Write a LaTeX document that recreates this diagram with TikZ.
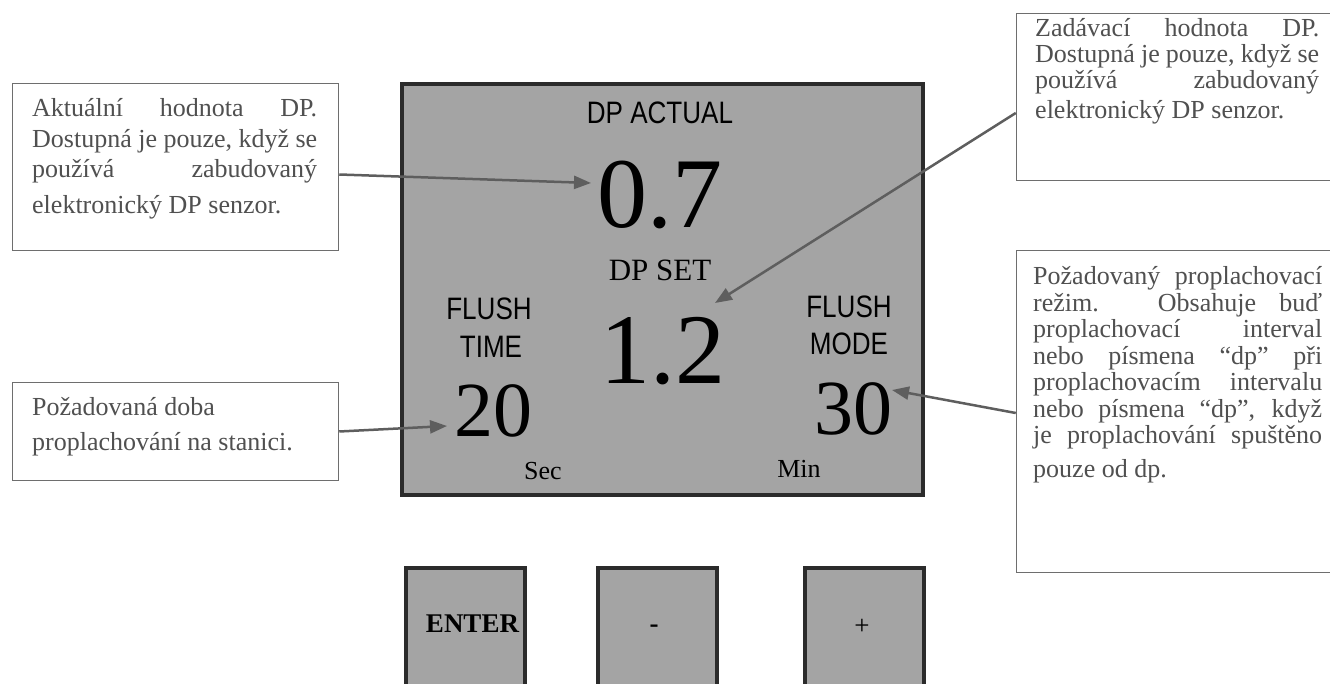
\documentclass[tikz,border=0pt]{standalone}
\usepackage{fontspec}
\setmainfont{Liberation Serif}
\newfontfamily\narrowsans[FakeStretch=0.84]{Liberation Sans}
\usetikzlibrary{arrows.meta}
\definecolor{boxgray}{HTML}{6E6E6E}
\definecolor{txtgray}{HTML}{505050}
\definecolor{lcdfill}{HTML}{A4A4A4}
\definecolor{lcdedge}{HTML}{2B2B2B}
\definecolor{arrowgray}{HTML}{5E5E5E}
\newcommand\jline[2]{\makebox[#1][s]{#2}}
\tikzset{
  callout/.style={draw=boxgray, line width=1.5pt, fill=white, anchor=north west, inner sep=0pt},
  boxtext/.style={anchor=base west, inner sep=0pt, text=txtgray, font=\fontsize{26}{30}\selectfont},
  lcd/.style={draw=lcdedge, line width=4pt, fill=lcdfill, anchor=north west, inner sep=0pt},
  ptr/.style={draw=arrowgray, line width=2.5pt, -{Triangle[length=17pt,width=13pt]}},
  lcdlabel/.style={anchor=base, inner sep=0pt, text=black, font=\narrowsans\fontsize{31}{31}\selectfont},
  bignum/.style={anchor=base, inner sep=0pt, text=black, font=\fontsize{100}{100}\selectfont},
  midnum/.style={anchor=base, inner sep=0pt, text=black, font=\fontsize{78}{78}\selectfont},
  unit/.style={anchor=base, inner sep=0pt, text=black, font=\fontsize{26}{26}\selectfont},
  keylabel/.style={anchor=base, inner sep=0pt, text=black, font=\fontsize{27}{27}\selectfont},
}
\begin{document}
\begin{tikzpicture}[x=1pt,y=-1pt]
\useasboundingbox (0,0) rectangle (1330,684);
\fill[white] (0,0) rectangle (1330,684);

% display
\node[lcd, minimum width=521pt, minimum height=411pt] (lcd) at (400,82) {};
\node[lcdlabel] (dpactual) at (660,124) {DP ACTUAL};
\node[bignum] (val07) at (660,228) {0.7};
\node[anchor=base, inner sep=0pt, font=\fontsize{31}{31}\selectfont] (dpset) at (660,281) {DP SET};
\node[bignum] (val12) at (663,384) {1.2};
\node[lcdlabel] (flushl) at (489,320) {FLUSH};
\node[lcdlabel] (timel) at (491,357) {TIME};
\node[midnum] (val20) at (493,436) {20};
\node[lcdlabel] (flushr) at (849,318) {FLUSH};
\node[lcdlabel] (moder) at (849,355) {MODE};
\node[midnum] (val30) at (853,434) {30};
\node[unit] (sec) at (543,479) {Sec};
\node[unit] (min) at (799,477) {Min};

% keys
\node[lcd, minimum width=119pt, minimum height=140pt] (kenter) at (404,566) {};
\node[lcd, minimum width=119pt, minimum height=140pt] (kminus) at (596,566) {};
\node[lcd, minimum width=119pt, minimum height=140pt] (kplus) at (803,566) {};
\node[keylabel, font=\bfseries\fontsize{27}{27}\selectfont] (tenter) at (472.5,632) {ENTER};
\node[keylabel, font=\bfseries\fontsize{27}{27}\selectfont] (tminus) at (654,632) {-};
\node[keylabel] (tplus) at (862,634) {+};

% callout boxes
\node[callout, minimum width=326pt, minimum height=167pt] (box1) at (11.75,82.75) {};
\node[boxtext] (txt1) at (32,117) {\parbox[t]{285pt}{\baselineskip=30.5pt\lineskiplimit=-100pt
  \jline{285pt}{Aktuální hodnota DP.}\\
  \jline{285pt}{Dostupná je pouze, když se}\\
  \jline{285pt}{používá zabudovaný}\\[5.5pt]
  elektronický DP senzor.}};

\node[callout, minimum width=330pt, minimum height=167pt] (box2) at (1015.75,12.75) {};
\node[boxtext] (txt2) at (1035,37) {\parbox[t]{284pt}{\baselineskip=26pt\lineskiplimit=-100pt
  \jline{284pt}{Zadávací hodnota DP.}\\
  \jline{284pt}{Dostupná je pouze, když se}\\
  \jline{284pt}{používá zabudovaný}\\[4pt]
  elektronický DP senzor.}};

\node[callout, minimum width=330pt, minimum height=322pt] (box3) at (1015.75,249.75) {};
\node[boxtext] (txt3) at (1033,285) {\parbox[t]{289pt}{\baselineskip=26.5pt\lineskiplimit=-100pt
  \jline{289pt}{Požadovaný proplachovací}\\
  \jline{289pt}{režim. Obsahuje buď}\\
  \jline{289pt}{proplachovací interval}\\
  \jline{289pt}{nebo písmena “dp” při}\\
  \jline{289pt}{proplachovacím intervalu}\\
  \jline{289pt}{nebo písmena “dp”, když}\\
  \jline{289pt}{je proplachování spuštěno}\\[7.5pt]
  pouze od dp.}};

\node[callout, minimum width=326pt, minimum height=98pt] (box4) at (11.75,381.75) {};
\node[boxtext] (txt4) at (32,415) {\parbox[t]{285pt}{\baselineskip=30.5pt\lineskiplimit=-100pt
  Požadovaná doba\\[4.5pt]
  proplachování na stanici.}};

% pointers
\coordinate (tip1) at (591,183);
\coordinate (tip2) at (715,303);
\coordinate (tip3) at (447,426);
\coordinate (tip4) at (892,390);
\draw[ptr] ([yshift=-7.5pt]box1.east) -- (tip1);
\draw[ptr] ([yshift=-16pt]box2.west) -- (tip2);
\draw[ptr] (box4.east) -- (tip3);
\draw[ptr] ([yshift=-1.5pt]box3.west) -- (tip4);
\end{tikzpicture}
\end{document}
